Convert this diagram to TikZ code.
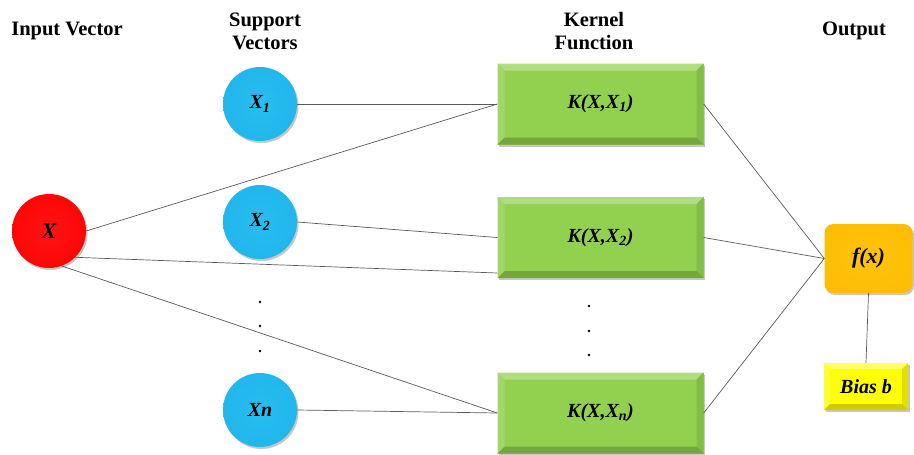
\documentclass[tikz,border=0pt]{standalone}
\usepackage{fontspec}
\setmainfont{Liberation Serif}
\usetikzlibrary{shadows}
\definecolor{kgreen}{RGB}{146,208,80}
\definecolor{fgold}{RGB}{255,190,0}
\definecolor{byel}{RGB}{255,255,0}
\definecolor{linec}{RGB}{90,90,90}
\pgfdeclareradialshading{redball}{\pgfpoint{0bp}{0bp}}{rgb(0bp)=(1,0.08,0.08); rgb(34bp)=(1,0,0); rgb(46bp)=(0.9,0,0); rgb(50bp)=(0.82,0,0)}
\pgfdeclareradialshading{blueball}{\pgfpoint{0bp}{0bp}}{rgb(0bp)=(0.16,0.74,0.94); rgb(34bp)=(0.12,0.71,0.92); rgb(46bp)=(0.08,0.63,0.85); rgb(50bp)=(0.06,0.56,0.78)}
\pgfdeclareradialshading{goldbox}{\pgfpoint{0bp}{0bp}}{rgb(0bp)=(1,0.76,0.05); rgb(36bp)=(1,0.74,0); rgb(48bp)=(0.95,0.66,0); rgb(50bp)=(0.9,0.6,0)}
\tikzset{
  bevel/.style n args={5}{path picture={
    \fill[#2] (path picture bounding box.north west) -- (path picture bounding box.north east)
      -- ([xshift=-#1,yshift=-#1]path picture bounding box.north east) -- ([xshift=#1,yshift=-#1]path picture bounding box.north west) -- cycle;
    \fill[#3] (path picture bounding box.north west) -- (path picture bounding box.south west)
      -- ([xshift=#1,yshift=#1]path picture bounding box.south west) -- ([xshift=#1,yshift=-#1]path picture bounding box.north west) -- cycle;
    \fill[#4] (path picture bounding box.north east) -- (path picture bounding box.south east)
      -- ([xshift=-#1,yshift=#1]path picture bounding box.south east) -- ([xshift=-#1,yshift=-#1]path picture bounding box.north east) -- cycle;
    \fill[#5] (path picture bounding box.south west) -- (path picture bounding box.south east)
      -- ([xshift=-#1,yshift=#1]path picture bounding box.south east) -- ([xshift=#1,yshift=#1]path picture bounding box.south west) -- cycle;
  }},
  header/.style={align=center, font=\fontsize{20.5}{23}\selectfont\bfseries},
  shad/.style={drop shadow={shadow xshift=1.5pt, shadow yshift=-2pt, fill=black, opacity=0.22}},
  inball/.style={circle, minimum size=74pt, inner sep=0pt, shad, shade, shading=redball,
    font=\fontsize{22}{24}\selectfont\bfseries\itshape},
  svball/.style={circle, minimum size=74pt, inner sep=0pt, shad, shade, shading=blueball,
    font=\fontsize{20}{22}\selectfont\bfseries\itshape},
  kbox/.style={rectangle, minimum width=206pt, minimum height=81pt, inner sep=0pt, shad, fill=kgreen,
    bevel={7pt}{kgreen!72!white}{kgreen!85!white}{kgreen!90!black}{kgreen!80!black},
    font=\fontsize{20}{22}\selectfont\bfseries\itshape},
  fbox/.style={rectangle, rounded corners=9pt, minimum width=88pt, minimum height=69pt, inner sep=0pt,
    shad, shade, shading=goldbox, font=\fontsize{22}{24}\selectfont\bfseries\itshape},
  bbox/.style={rectangle, minimum width=84pt, minimum height=47pt, inner sep=0pt, shad, fill=byel,
    bevel={6pt}{byel!60!white}{byel!78!white}{byel!88!black}{byel!80!black},
    font=\fontsize{20}{22}\selectfont\bfseries\itshape},
  conn/.style={draw=linec, line width=0.7pt},
  vdot/.style={fill=black}
}
\begin{document}
\begin{tikzpicture}[x=1pt,y=-1pt]
\useasboundingbox (0,0) rectangle (914,455);
% headers
\node[header] (h1) at (67,31) {Input Vector};
\node[header] (h2) at (265,31) {Support\\Vectors};
\node[header] (h3) at (594,31) {Kernel\\Function};
\node[header] (h4) at (854,31) {Output};
% input
\node[inball] (X) at (49,231) {X};
% support vectors
\node[svball] (X1) at (260,104) {X\textsubscript{1}};
\node[svball] (X2) at (260,222) {X\textsubscript{2}};
\node[svball] (Xn) at (260,410) {Xn};
% kernels
\node[kbox] (K1) at (600.5,104) {K(X,X\textsubscript{1})};
\node[kbox] (K2) at (600.5,237.5) {K(X,X\textsubscript{2})};
\node[kbox] (Kn) at (600.5,413) {K(X,X\textsubscript{n})};
% output
\node[fbox] (F) at (868.5,258.5) {f(x)};
\node[bbox] (B) at (866,386.5) {Bias b};
% dots
\foreach \y in {302,326,351} \fill[vdot] (260,\y) circle (1.4pt);
\foreach \y in {306,331,355} \fill[vdot] (589,\y) circle (1.4pt);
% connectors
\draw[conn] (X.0) -- (K1.west);
\draw[conn] (X.-45) -- ([yshift=-35.5pt]K2.west);
\draw[conn] (X.-70) -- (Kn.west);
\draw[conn] (X1.east) -- (K1.west);
\draw[conn] (X2.east) -- (K2.west);
\draw[conn] (Xn.east) -- (Kn.west);
\draw[conn] (K1.east) -- (F.west);
\draw[conn] (K2.east) -- (F.west);
\draw[conn] (Kn.east) -- (F.west);
\draw[conn] (F.south) -- (B.north);
\end{tikzpicture}
\end{document}
